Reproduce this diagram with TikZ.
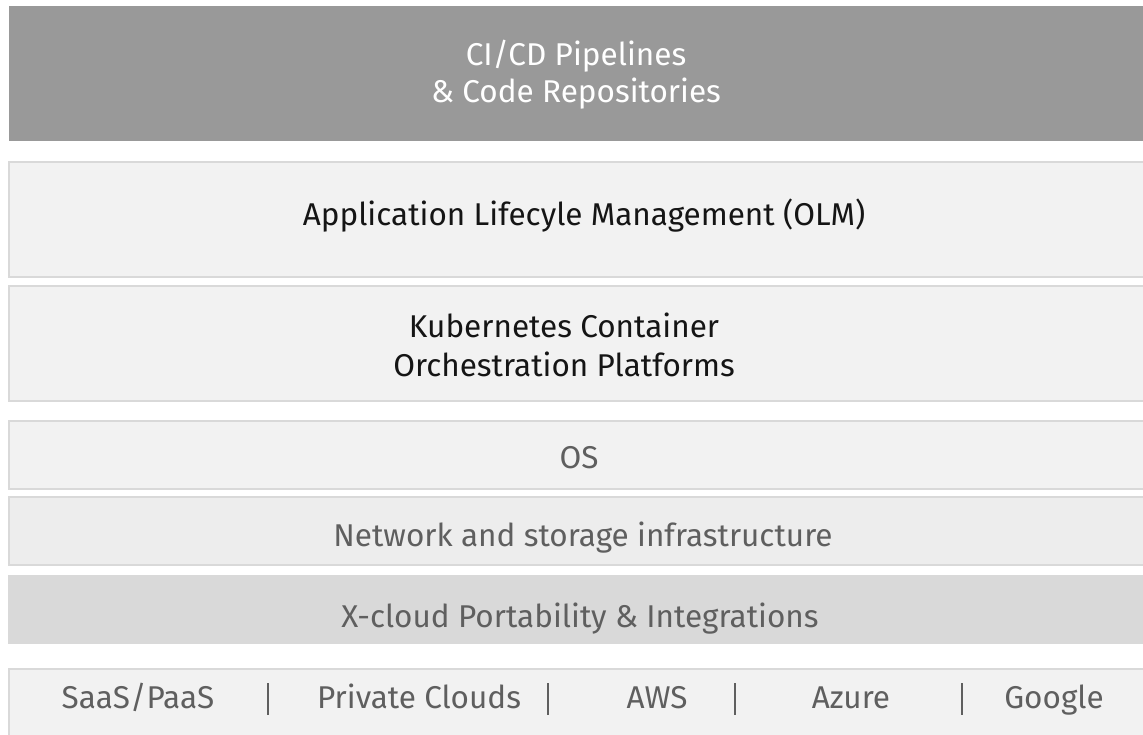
\documentclass[tikz,border=0pt]{standalone}
\usepackage{fontspec}
\setmainfont{Fira Sans}
\definecolor{topfill}{HTML}{999999}
\definecolor{layerfill}{HTML}{F2F2F2}
\definecolor{netfill}{HTML}{EDEDED}
\definecolor{xfill}{HTML}{D9D9D9}
\definecolor{layerline}{HTML}{D9D9D9}
\definecolor{darktext}{HTML}{151515}
\definecolor{greytext}{HTML}{5F5F5F}
\tikzset{
  layer/.style={rectangle, draw=layerline, line width=1.5pt, fill=layerfill, inner sep=0pt},
  label/.style={anchor=base, inner sep=0pt, font=\fontsize{31.5}{37}\selectfont},
  sep/.style={draw=greytext, line width=1.8pt}
}
\begin{document}
\begin{tikzpicture}[x=1pt, y=-1pt]
\useasboundingbox (0,0) rectangle (1143,734);
% stacked layers, top to bottom
\node[rectangle, fill=topfill, inner sep=0pt, minimum width=1160pt, minimum height=135pt, anchor=north west] (cicd) at (9,6) {};
\node[layer, minimum width=1160pt, minimum height=115pt, anchor=north west] (olm) at (8,161) {};
\node[layer, minimum width=1160pt, minimum height=115pt, anchor=north west] (k8s) at (8,285) {};
\node[layer, minimum width=1160pt, minimum height=68pt, anchor=north west] (os) at (8,420) {};
\node[layer, fill=netfill, minimum width=1160pt, minimum height=68pt, anchor=north west] (net) at (8,496) {};
\node[rectangle, fill=xfill, inner sep=0pt, minimum width=1160pt, minimum height=69pt, anchor=north west] (xcloud) at (8,575) {};
\node[layer, minimum width=1160pt, minimum height=90pt, anchor=north west] (clouds) at (8,668) {};

% layer captions
\node[label, text=white] (cicd1) at (576,65) {CI/CD Pipelines};
\node[label, text=white] (cicd2) at (576,102) {\& Code Repositories};
\node[label, text=darktext] (olmt) at (584,225) {Application Lifecyle Management (OLM)};
\node[label, text=darktext] (k8s1) at (564,337) {Kubernetes Container};
\node[label, text=darktext] (k8s2) at (564,376) {Orchestration Platforms};
\node[label, text=greytext] (ost) at (579,468) {OS};
\node[label, text=greytext] (nett) at (583,546) {Network and storage infrastructure};
\node[label, text=greytext] (xt) at (580,627) {X-cloud Portability \& Integrations};

% providers
\node[label, text=greytext] (saas) at (138,708) {SaaS/PaaS};
\node[label, text=greytext] (priv) at (419,708) {Private Clouds};
\node[label, text=greytext] (aws) at (657,708) {AWS};
\node[label, text=greytext] (azure) at (851,708) {Azure};
\node[label, text=greytext] (google) at (1054,708) {Google};
\coordinate (s1a) at (268,683); \coordinate (s1b) at (268,715);
\coordinate (s2a) at (548,683); \coordinate (s2b) at (548,715);
\coordinate (s3a) at (735,683); \coordinate (s3b) at (735,715);
\coordinate (s4a) at (962,683); \coordinate (s4b) at (962,715);
\draw[sep] (s1a) -- (s1b);
\draw[sep] (s2a) -- (s2b);
\draw[sep] (s3a) -- (s3b);
\draw[sep] (s4a) -- (s4b);
\end{tikzpicture}
\end{document}
